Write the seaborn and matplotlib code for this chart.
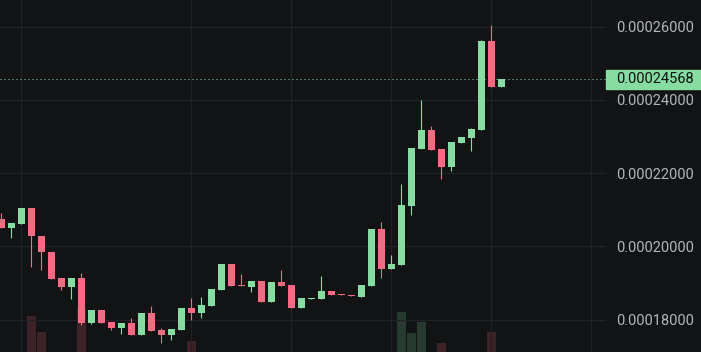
import numpy as np
import matplotlib
matplotlib.use("Agg")
import matplotlib.pyplot as plt
import matplotlib.transforms as mtransforms
from matplotlib.patches import Rectangle
import seaborn as sns

# candle data, prices in units of 1e-5
opens = [20.746, 20.508, 20.617, 21.046, 20.290, 19.852, 19.134, 18.896, 19.134, 17.913,
         18.260, 17.930, 17.776, 17.904, 17.585, 18.178, 17.710, 17.585, 17.720, 18.314,
         18.178, 18.380, 18.806, 19.516, 18.943, 18.888, 19.052, 18.478, 19.025, 18.943,
         18.314, 18.560, 18.560, 18.779, 18.697, 18.669, 18.623, 18.923, 20.473, 19.388,
         19.497, 21.110, 22.667, 23.178, 22.658, 22.175, 22.822, 22.967, 23.178, 25.609,
         24.352]
highs = [20.910, 20.637, 21.046, 21.046, 20.290, 19.852, 19.134, 19.134, 19.270, 18.260,
         18.260, 17.930, 17.904, 18.041, 18.178, 18.369, 17.768, 17.740, 18.314, 18.587,
         18.615, 18.833, 19.516, 19.516, 19.243, 19.052, 19.052, 19.025, 19.352, 18.943,
         18.587, 18.587, 19.188, 18.779, 18.697, 18.669, 18.943, 20.473, 20.664, 19.762,
         21.702, 22.686, 23.997, 23.287, 22.658, 22.850, 22.986, 23.232, 25.636, 26.046,
         24.568]
lows = [20.508, 20.235, 20.617, 19.443, 19.361, 19.115, 18.814, 18.568, 17.858, 17.885,
        17.913, 17.721, 17.612, 17.585, 17.585, 17.694, 17.366, 17.448, 17.720, 17.995,
        18.041, 18.380, 18.806, 18.915, 18.915, 18.751, 18.478, 18.478, 18.915, 18.314,
        18.314, 18.560, 18.560, 18.669, 18.669, 18.642, 18.623, 18.923, 19.142, 19.388,
        19.497, 20.863, 22.667, 22.639, 21.839, 22.057, 22.822, 22.604, 23.178, 24.352,
        24.352]
closes = [20.508, 20.637, 21.046, 20.290, 19.852, 19.115, 18.896, 19.134, 17.913, 18.260,
          17.913, 17.776, 17.904, 17.585, 18.178, 17.694, 17.585, 17.740, 18.314, 18.178,
          18.396, 18.833, 19.516, 18.915, 18.915, 19.052, 18.478, 19.025, 18.915, 18.314,
          18.587, 18.587, 18.779, 18.669, 18.669, 18.642, 18.943, 20.473, 19.388, 19.516,
          21.128, 22.686, 23.178, 22.639, 22.175, 22.850, 22.986, 23.205, 25.609, 24.352,
          24.568]
volumes = [0, 0, 0, 36000, 20000, 0, 0, 0, 44000, 0,
           0, 0, 0, 0, 0, 0, 0, 0, 0, 11000,
           0, 0, 0, 0, 0, 0, 0, 0, 0, 0,
           0, 0, 0, 0, 0, 0, 0, 0, 0, 0,
           40000, 19000, 30000, 0, 9000, 0, 0, 0, 0, 20000,
           0]
price_ticks = [0.00018, 0.00020, 0.00022, 0.00024, 0.00026]
time_grid = [2, 19, 29, 39, 49, 59]
last_price = 0.00024568

scale = 1e-5
o = np.array(opens) * scale
h = np.array(highs) * scale
l = np.array(lows) * scale
c = np.array(closes) * scale
v = np.array(volumes)
idx = np.arange(len(o))

BG = "#121315"
GRID = "#202226"
UP = "#86dca1"
DOWN = "#f66a83"
UP_VOL = "#273a30"
DOWN_VOL = "#3d2328"
TXT = "#b2b5bb"

sns.set_theme(style="dark", rc={"figure.facecolor": BG, "axes.facecolor": BG})
plt.rcParams["font.family"] = ["Roboto", "DejaVu Sans"]

fig = plt.figure(figsize=(7.01, 3.52), dpi=100)
ax = fig.add_axes([0, 0, 606 / 701, 1])
ax_vol = ax.twinx()
ax.set_zorder(2)
ax_vol.set_zorder(1)
ax.patch.set_visible(False)
ax_vol.set_facecolor(BG)

up = c >= o
body_col = np.where(up, UP, DOWN)
vol_col = np.where(up, UP_VOL, DOWN_VOL)

# volume bars
ax_vol.bar(idx, v, width=0.9, color=vol_col, linewidth=0)
ax_vol.set_ylim(0, v.max() * 8)
ax_vol.set_yticks([])
for s in ax_vol.spines.values():
    s.set_visible(False)

# wicks and bodies
px = 1e-5 / 36.6
ax.vlines(idx, l, h, colors=body_col, linewidth=0.8, zorder=3)
heights = np.maximum(np.abs(c - o), px)
ax.bar(idx, heights, bottom=np.minimum(o, c), width=0.7, color=body_col,
       linewidth=0, zorder=4)

ax.set_xlim(-0.15, 60.45)
ax.set_ylim(17.112 * scale, 26.730 * scale)

ax.set_xticks(time_grid)
ax.set_yticks(price_ticks)
ax.set_yticklabels([f"{t:.8f}" for t in price_ticks])
ax.yaxis.tick_right()
ax.tick_params(axis="x", length=0, labelbottom=False)
ax.tick_params(axis="y", length=0, pad=7.2, labelsize=10.5, labelcolor=TXT)
ax.grid(True, color=GRID, linewidth=1.0)
for s in ax.spines.values():
    s.set_visible(False)

# last price line and label
ax.axhline(last_price, color=UP, linewidth=0.72, linestyle=(0, (1, 3)), zorder=2)
trans = mtransforms.blended_transform_factory(fig.transFigure, ax.transData)
box_h = 19 * px
ax.add_patch(Rectangle((606 / 701, last_price - box_h / 2), 95 / 701, box_h,
                       transform=trans, color=UP, clip_on=False, zorder=5))
ax.text(616 / 701, last_price, f"{last_price:.8f}", transform=trans,
        ha="left", va="center", fontsize=10.5, color="#101113", zorder=6,
        clip_on=False)

fig.savefig("out.png", dpi=100, facecolor=BG)
